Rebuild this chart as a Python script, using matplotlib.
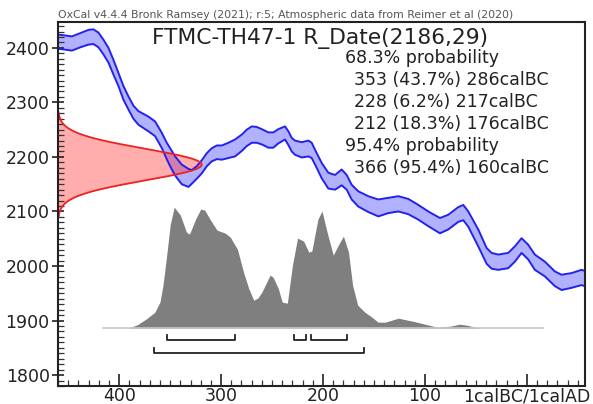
"""
OxCal-style calibration plot for FTMC-TH47-1, R_Date(2186,29).
"""

import numpy as np
import matplotlib
matplotlib.use("Agg")
import matplotlib.pyplot as plt
from matplotlib.ticker import MultipleLocator, FixedLocator, FixedFormatter

# --- radiocarbon measurement ---
sample_name = "FTMC-TH47-1"
c14_mean = 2186
c14_sigma = 29

# --- calibration curve band (years BC, 14C BP upper / lower edge) ---
curve_years = [460, 457.8, 446.4, 438.2, 430.1, 425.2, 420.3, 415.4, 410.5, 405.6,
               400.7, 395.8, 390.9, 386.0, 381.1, 376.2, 371.3, 364.7, 358.1, 353.3,
               350.0, 345.1, 338.6, 332.0, 328.7, 323.9, 318.9, 314.0, 309.1, 304.2,
               299.3, 292.8, 286.3, 279.7, 274.8, 269.9, 265.0, 260.1, 253.6, 248.7,
               243.8, 237.3, 234.0, 230.7, 227.5, 220.9, 214.4, 211.1, 207.8, 201.3,
               194.8, 188.2, 181.7, 176.8, 171.9, 165.4, 155.6, 145.8, 136.0, 126.1,
               116.3, 106.5, 96.7, 85.3, 77.1, 67.3, 62.4, 57.5, 47.7, 39.5,
               34.6, 28.1, 18.3, 11.8, 5.2, -1.3, -7.8, -17.6, -27.5, -34.0,
               -43.8, -53.6, -58.5]
curve_upper = [2424, 2424, 2421, 2427, 2433, 2434, 2428, 2415, 2400, 2378,
               2354, 2330, 2311, 2294, 2284, 2279, 2274, 2265, 2244, 2226,
               2216, 2201, 2186, 2178, 2176, 2183, 2194, 2207, 2216, 2221,
               2221, 2226, 2232, 2241, 2250, 2256, 2255, 2251, 2245, 2245,
               2251, 2256, 2247, 2235, 2230, 2227, 2230, 2226, 2213, 2189,
               2171, 2167, 2177, 2167, 2149, 2137, 2128, 2122, 2125, 2128,
               2123, 2112, 2100, 2088, 2094, 2108, 2112, 2100, 2067, 2033,
               2024, 2021, 2024, 2036, 2051, 2039, 2021, 2008, 1990, 1984,
               1987, 1993, 1990]
curve_lower = [2398, 2398, 2395, 2401, 2406, 2407, 2401, 2388, 2373, 2351,
               2330, 2305, 2287, 2270, 2259, 2253, 2247, 2238, 2216, 2196,
               2183, 2166, 2150, 2145, 2151, 2160, 2170, 2183, 2192, 2196,
               2195, 2198, 2201, 2211, 2220, 2226, 2226, 2223, 2217, 2217,
               2225, 2232, 2222, 2210, 2204, 2199, 2201, 2198, 2186, 2161,
               2142, 2140, 2148, 2140, 2122, 2109, 2099, 2091, 2097, 2100,
               2095, 2085, 2073, 2060, 2067, 2081, 2084, 2072, 2036, 2004,
               1995, 1993, 1996, 2008, 2024, 2012, 1993, 1981, 1963, 1956,
               1960, 1965, 1962]

# --- calibrated probability (years BC, relative height) ---
prob_years = [416, 391, 382, 373, 365, 360, 357, 353, 350, 346,
              340, 334, 331, 325, 320, 316, 311, 304, 296, 291,
              284, 278, 273, 268, 264, 260, 252, 249, 244, 240,
              235, 230, 225, 219, 214, 211, 205, 201, 196, 190,
              185, 180, 175, 171, 166, 159, 152, 146, 139, 126,
              117, 112, 98, 88, 75, 66, 59, 49, 43, -16]
prob_height = [0, 0, 3.5, 9.5, 16, 26, 43, 76, 103, 121,
               113, 96, 94, 109, 119, 118, 109, 98, 95, 91,
               79, 56, 40, 28, 30, 36, 53, 51, 40, 26,
               25, 63, 90, 87, 76, 77, 109, 117, 96, 73,
               83, 92, 76, 43, 23, 16, 11, 6, 6, 10,
               8, 7, 3.5, 1, 2, 4, 3, 0.5, 0, 0]

# --- ranges ---
range68_from = [353, 228, 212]
range68_to = [286, 217, 176]
range68_pct = [43.7, 6.2, 18.3]
range95_from = [366]
range95_to = [160]
range95_pct = [95.4]

x_ticks = [400, 300, 200, 100, 0]
x_tick_labels = ["400", "300", "200", "100", "1calBC/1calAD"]
y_ticks = [1800, 1900, 2000, 2100, 2200, 2300, 2400]

source_text = ("OxCal v4.4.4 Bronk Ramsey (2021); r:5; "
               "Atmospheric data from Reimer et al (2020)")

# layout constants
XLIM = (460, -57)
YLIM = (1780, 2448)
PROB_BASE = 1886
PROB_SCALE = 222 / 121.0
RED_WIDTH = 141
BAR68_Y, BAR95_Y, CAP = 1865, 1841, 9

fig = plt.figure(figsize=(5.93, 4.04), dpi=100)
ax = fig.add_axes([0.0978, 0.0446, 0.8887, 0.9017])

# calibration curve
ax.fill_between(curve_years, curve_lower, curve_upper, color=(0.2, 0.2, 1.0, 0.38), lw=0)
ax.plot(curve_years, curve_upper, color="#2222ee", lw=1.4)
ax.plot(curve_years, curve_lower, color="#2222ee", lw=1.4)

# measurement on y axis
zz = np.linspace(-3.3, 3.3, 300)
c14_y = c14_mean + zz * c14_sigma
red_x = XLIM[0] - RED_WIDTH * np.exp(-0.5 * zz ** 2)
ax.fill_betweenx(c14_y, XLIM[0], red_x, color=(1.0, 0.2, 0.2, 0.4), lw=0)
ax.plot(red_x, c14_y, color="#ee2222", lw=1.3)

# calibrated distribution
prob_y = PROB_BASE + np.array(prob_height) * PROB_SCALE
ax.fill_between(prob_years, PROB_BASE, prob_y, color="#7f7f7f", lw=0)
ax.plot([prob_years[0], prob_years[-1]], [PROB_BASE, PROB_BASE], color="#c8c8c8", lw=1.2)

# range bars
for y0, starts, ends in [(BAR68_Y, range68_from, range68_to),
                         (BAR95_Y, range95_from, range95_to)]:
    for a, b in zip(starts, ends):
        ax.plot([a, a, b, b], [y0 + CAP, y0, y0, y0 + CAP], color="#222222", lw=1.3)

ax.set_xlim(*XLIM)
ax.set_ylim(*YLIM)
ax.xaxis.set_major_locator(FixedLocator(x_ticks))
ax.xaxis.set_major_formatter(FixedFormatter(x_tick_labels))
ax.xaxis.set_minor_locator(MultipleLocator(10))
ax.set_yticks(y_ticks)
ax.yaxis.set_minor_locator(MultipleLocator(10))
ax.tick_params(axis="x", which="major", direction="in", length=9, width=1.2,
               labelsize=12.5, pad=1.0, colors="#222222")
ax.tick_params(axis="y", which="major", direction="inout", length=8, width=1.2,
               labelsize=12.5, pad=2, colors="#222222")
ax.tick_params(which="minor", direction="in", length=4, width=0.9, colors="#333333")
for sp in ax.spines.values():
    sp.set_linewidth(1.5)
    sp.set_color("#222222")

# texts
fig.text(58 / 593, 1 - 18 / 404, source_text, fontsize=7.8, color="#555555",
         ha="left", va="baseline")
ax.text(0.1784, 0.9388, f"{sample_name} R_Date({c14_mean},{c14_sigma})",
        transform=ax.transAxes, fontsize=15.7, color="#222222", va="baseline")

lines = [("68.3% probability", 0)]
for a, p, b in zip(range68_from, range68_pct, range68_to):
    lines.append((f"{a} ({p}%) {b}calBC", 1))
lines.append(("95.4% probability", 0))
for a, p, b in zip(range95_from, range95_pct, range95_to):
    lines.append((f"{a} ({p}%) {b}calBC", 1))
y_base = 63.3
for txt, indent in lines:
    xpx = 345 if indent == 0 else 354
    ax.text((xpx - 58) / 527, (386 - y_base) / 364.3, txt, transform=ax.transAxes,
            fontsize=12.5, color="#222222", va="baseline")
    y_base += 21.9

fig.savefig("out.png", dpi=100)
